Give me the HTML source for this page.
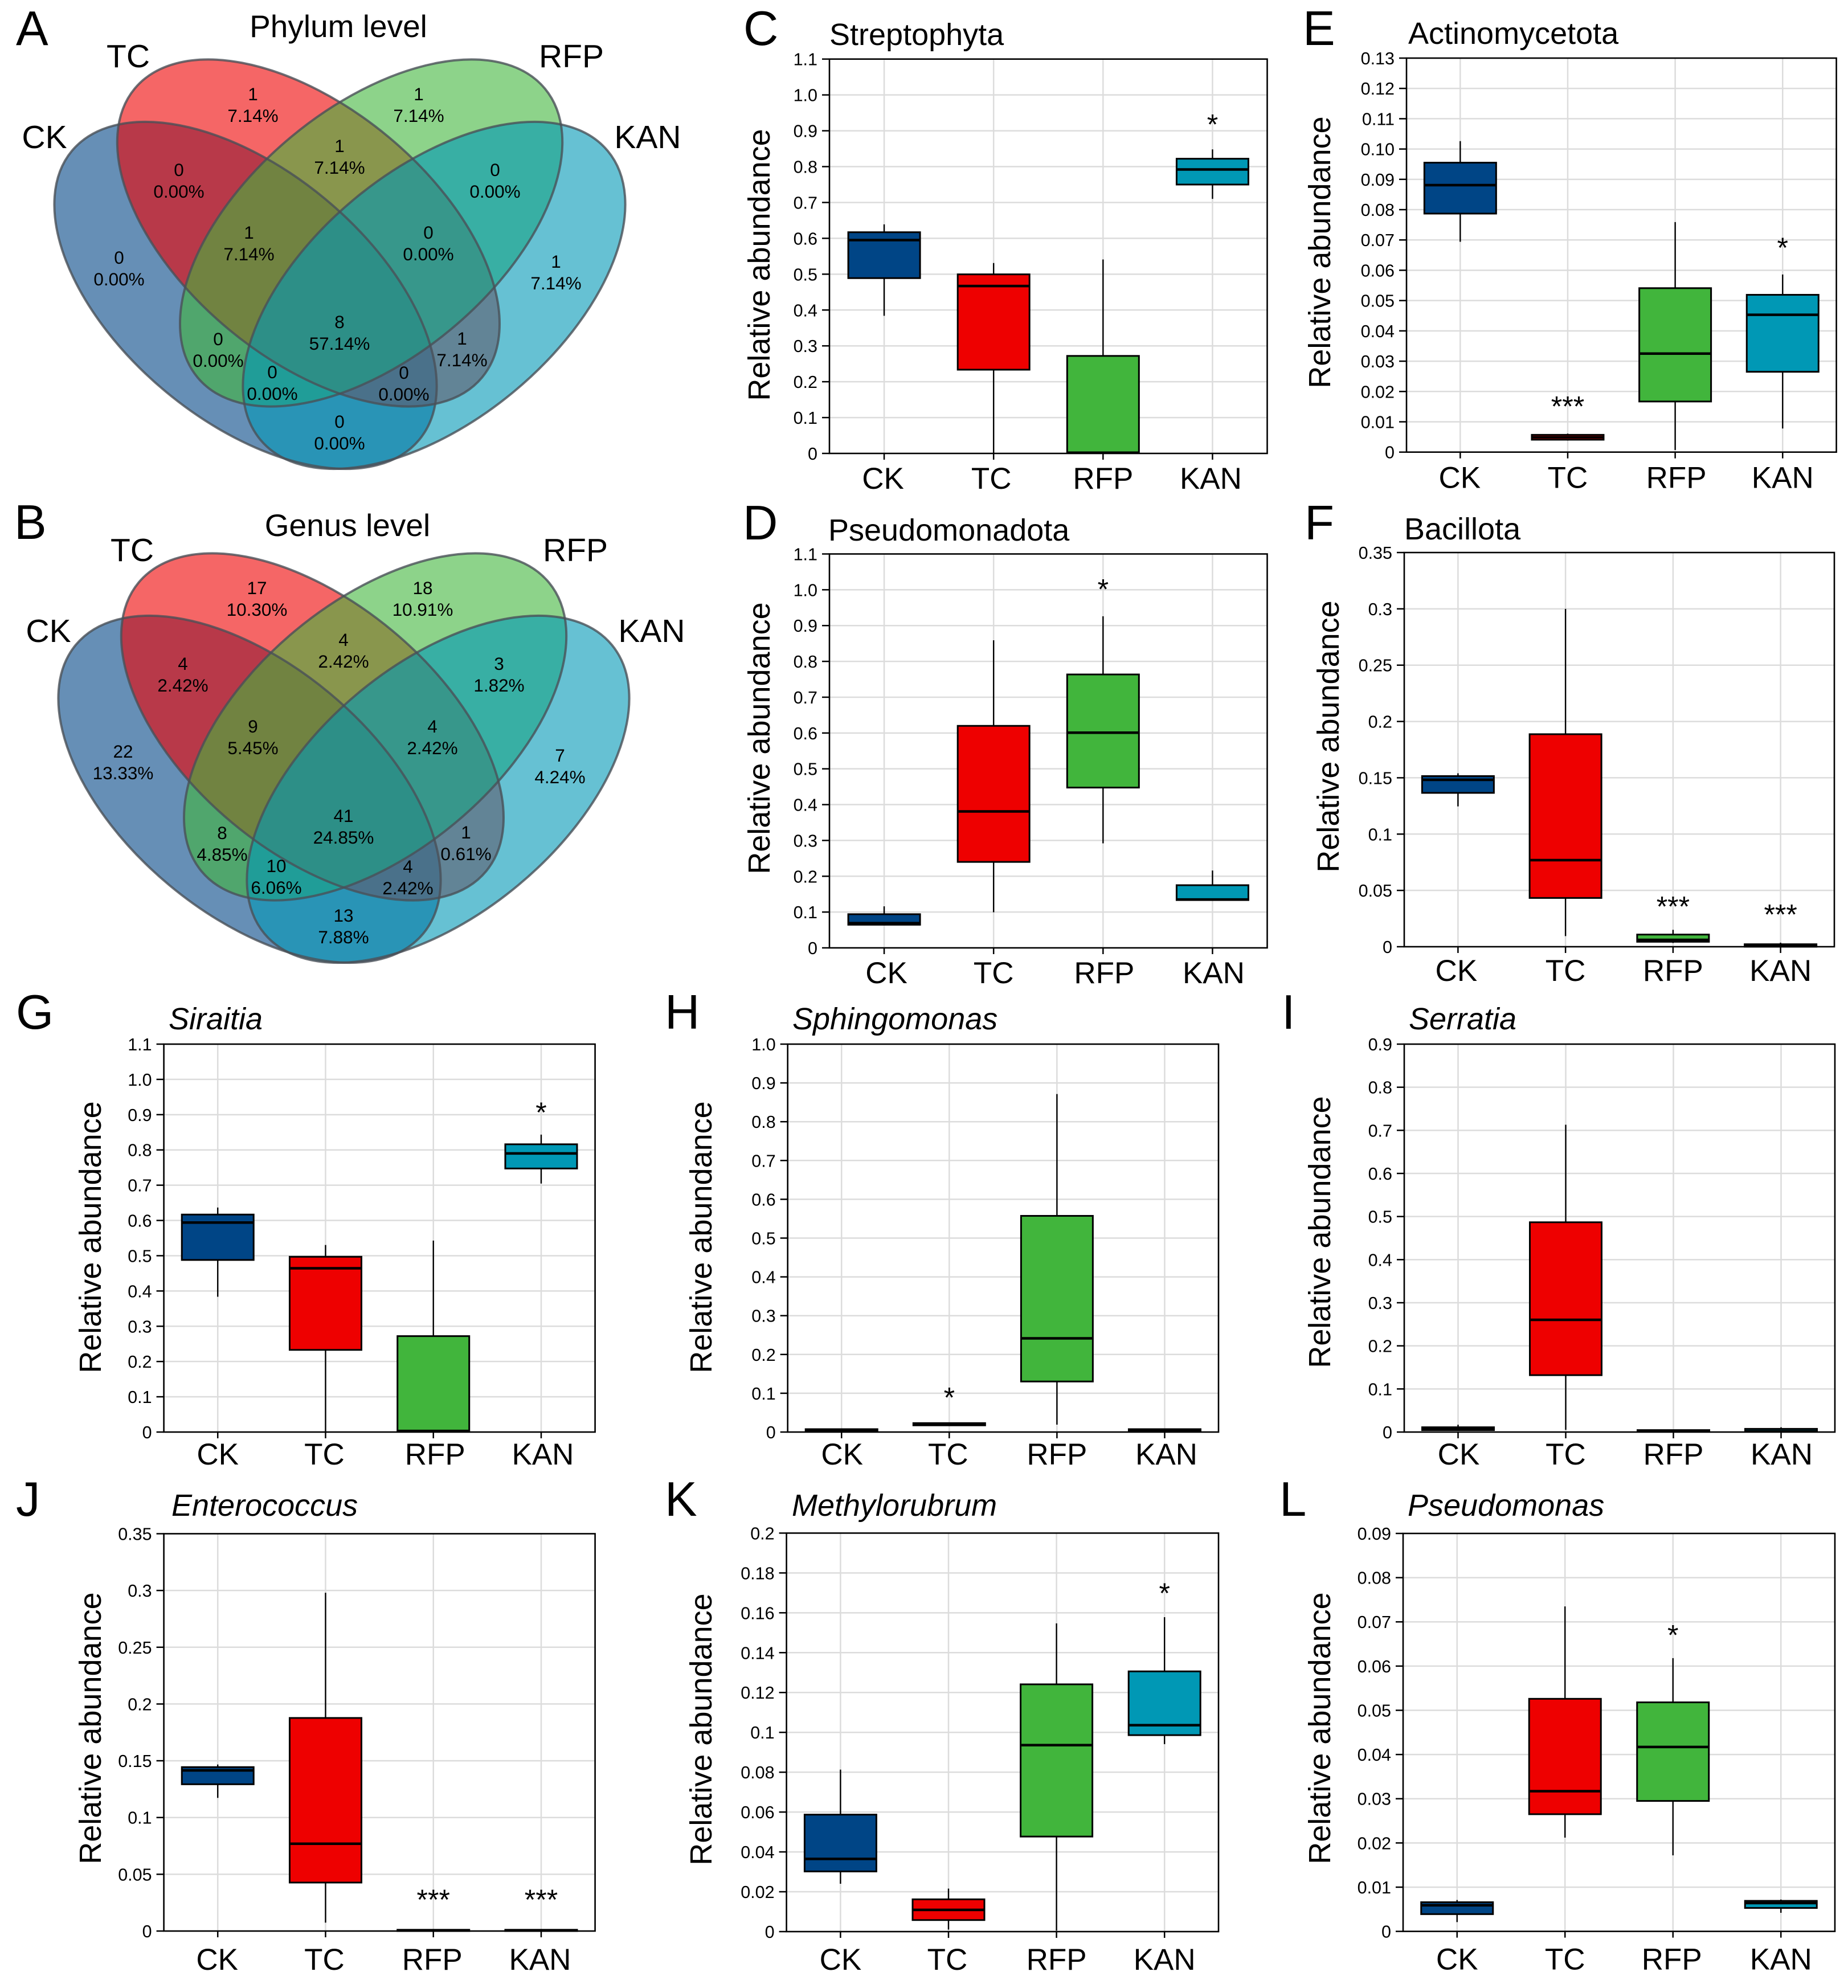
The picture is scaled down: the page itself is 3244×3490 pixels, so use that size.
<!DOCTYPE html>
<html lang="en">
<head>
<meta charset="utf-8">
<title>Venn diagrams and relative abundance box plots</title>
<style>
html,body{margin:0;padding:0;background:#fff;width:3244px;height:3490px;overflow:hidden}
svg{display:block;font-family:"Liberation Sans",Arial,sans-serif}
</style>
</head>
<body>
<svg id="fig" xmlns="http://www.w3.org/2000/svg" width="3244" height="3490" viewBox="0 0 3244 3490"></svg>
<script>
/* ---------- shared categories ---------- */
const categories = ['CK', 'TC', 'RFP', 'KAN'];

/* ---------- Venn data ---------- */
const vennRegionNames = ['tc-only','rfp-only','tc-rfp','ck-tc','rfp-kan','ck-tc-rfp','tc-rfp-kan','ck-only','kan-only','all-four','ck-rfp','tc-kan','ck-rfp-kan','ck-tc-kan','ck-kan'];
const phylumCounts = ['1','1','1','0','0','1','0','0','1','8','0','1','0','0','0'];
const phylumPercents = ['7.14%','7.14%','7.14%','0.00%','0.00%','7.14%','0.00%','0.00%','7.14%','57.14%','0.00%','7.14%','0.00%','0.00%','0.00%'];
const genusCounts = ['17','18','4','4','3','9','4','22','7','41','8','1','10','4','13'];
const genusPercents = ['10.30%','10.91%','2.42%','2.42%','1.82%','5.45%','2.42%','13.33%','4.24%','24.85%','4.85%','0.61%','6.06%','2.42%','7.88%'];

/* ---------- Box plot data: each row is [low, q1, median, q3, high] ---------- */
const panelCBoxes = [[0.384,0.489,0.595,0.617,0.639],[0,0.2336,0.467,0.4995,0.531],[0,0.002,0.002,0.272,0.541],[0.71,0.75,0.792,0.822,0.848]];
const panelCTicks = ['0','0.1','0.2','0.3','0.4','0.5','0.6','0.7','0.8','0.9','1.0','1.1'];
const panelCStarText = ['','','','*'];
const panelCStarLevel = [0,0,0,0.927];

const panelDBoxes = [[0.063,0.0646,0.069,0.094,0.116],[0.0995,0.24,0.381,0.62,0.859],[0.292,0.4476,0.601,0.7635,0.926],[0.133,0.1335,0.135,0.175,0.216]];
const panelDTicks = ['0','0.1','0.2','0.3','0.4','0.5','0.6','0.7','0.8','0.9','1.0','1.1'];
const panelDStarText = ['','','*',''];
const panelDStarLevel = [0,0,1.011,0];

const panelEBoxes = [[0.0694,0.0787,0.0881,0.0955,0.1026],[0.0038,0.0041,0.0049,0.0057,0.0061],[0.0007,0.0167,0.0325,0.0541,0.0759],[0.0078,0.0265,0.0453,0.0519,0.0586]];
const panelETicks = ['0','0.01','0.02','0.03','0.04','0.05','0.06','0.07','0.08','0.09','0.10','0.11','0.12','0.13'];
const panelEStarText = ['','***','','*'];
const panelEStarLevel = [0,0.0162,0,0.0685];

const panelFBoxes = [[0.1246,0.1366,0.1482,0.1515,0.154],[0.0094,0.0433,0.0769,0.1887,0.30],[0.0033,0.0044,0.0061,0.0108,0.015],[0,0,0.0011,0.0022,0.0036]];
const panelFTicks = ['0','0.05','0.1','0.15','0.2','0.25','0.3','0.35'];
const panelFStarText = ['','','***','***'];
const panelFStarLevel = [0,0,0.0386,0.0316];

const panelGBoxes = [[0.3836,0.488,0.594,0.6167,0.6366],[0,0.233,0.4643,0.497,0.5305],[0,0.002,0.003,0.272,0.543],[0.7046,0.7473,0.79,0.816,0.8434]];
const panelGTicks = ['0','0.1','0.2','0.3','0.4','0.5','0.6','0.7','0.8','0.9','1.0','1.1'];
const panelGStarText = ['','','','*'];
const panelGStarLevel = [0,0,0,0.916];

const panelHBoxes = [[0.0015,0.0016,0.005,0.0074,0.008],[0.0165,0.0173,0.0198,0.023,0.0247],[0.019,0.1303,0.2415,0.5573,0.8714],[0.003,0.0033,0.0058,0.0074,0.0078]];
const panelHTicks = ['0','0.1','0.2','0.3','0.4','0.5','0.6','0.7','0.8','0.9','1.0'];
const panelHStarText = ['','*','',''];
const panelHStarLevel = [0,0.098,0,0];

const panelIBoxes = [[0.003,0.0045,0.0074,0.0111,0.017],[0.005,0.132,0.2604,0.4867,0.713],[0.0005,0.0007,0.003,0.0045,0.005],[0.0005,0.0007,0.002,0.0074,0.0111]];
const panelITicks = ['0','0.1','0.2','0.3','0.4','0.5','0.6','0.7','0.8','0.9'];
const panelIStarText = ['','','',''];
const panelIStarLevel = [0,0,0,0];

const panelJBoxes = [[0.1173,0.1293,0.1415,0.1444,0.1467],[0.0074,0.0427,0.0769,0.1877,0.298],[0,0,0.0006,0.0011,0.0013],[0,0,0.0006,0.0011,0.0013]];
const panelJTicks = ['0','0.05','0.1','0.15','0.2','0.25','0.3','0.35'];
const panelJStarText = ['','','***','***'];
const panelJStarLevel = [0,0,0.0305,0.0305];

const panelKBoxes = [[0.024,0.0302,0.0365,0.0587,0.0813],[0.001,0.0058,0.0109,0.0162,0.0216],[0.0005,0.0477,0.0936,0.1241,0.1547],[0.0941,0.0986,0.1036,0.1306,0.1578]];
const panelKTicks = ['0','0.02','0.04','0.06','0.08','0.1','0.12','0.14','0.16','0.18','0.2'];
const panelKStarText = ['','','','*'];
const panelKStarLevel = [0,0,0,0.1715];

const panelLBoxes = [[0.0021,0.0039,0.0059,0.0066,0.0071],[0.0212,0.0265,0.0317,0.0526,0.0735],[0.0172,0.0295,0.0417,0.0518,0.0618],[0.0042,0.0053,0.0064,0.0069,0.0072]];
const panelLTicks = ['0','0.01','0.02','0.03','0.04','0.05','0.06','0.07','0.08','0.09'];
const panelLStarText = ['','','*',''];
const panelLStarLevel = [0,0,0.0678,0];

/* ---------- Colours ---------- */
const groupColors = ['#004586', '#EE0000', '#41B53C', '#0098B5'];

/* ---------- Helpers ---------- */
const fig = document.getElementById('fig');
const SVGNS = 'http://www.w3.org/2000/svg';
function make(parent, tag, attrs, text) {
  const node = document.createElementNS(SVGNS, tag);
  for (const k in attrs) node.setAttribute(k, attrs[k]);
  if (text !== undefined) node.textContent = text;
  parent.appendChild(node);
  return node;
}

/* ---------- Panel letters ---------- */
const letterLabels = ['A','B','C','D','E','F','G','H','I','J','K','L'];
const letterX = [28,25,1305,1304,2287,2290,28,1167,2250,28,1167,2246];
const letterY = [79,946,79,947,79,947,1806,1806,1806,2661,2661,2661];
letterLabels.forEach(function (t, i) {
  const el = make(fig, 'text', {x: letterX[i], y: letterY[i], 'font-size': 85, fill: '#000'}, t);
  
  
});

/* ---------- Venn diagrams ---------- */
const vennAxisA = 396.5, vennAxisB = 219.5, vennAngle = 39.75;
const vennCx = [431, 541.4, 651.6, 762];
const vennCy = [518.5, 409, 409, 518.5];
const vennTilt = [1, 1, -1, -1];
const vennLabelX = [78, 225, 1003, 1137];
const vennLabelY = [260, 118, 118, 260];
const vennRegionX = [444,735,596,314,869,437,752,209,976,596,383,811,478,709,596];
const vennRegionY = [165,165,256,298,298,408,408,452,459,565,595,594,653,654,740];

function drawVenn(id, title, titleX, titleY, dx, dy, counts, percents) {
  const g = make(fig, 'g', {});
  
  

  const t = make(g, 'text', {x: titleX, y: titleY, 'font-size': 55, 'text-anchor': 'middle'}, title);
  
  

  categories.forEach(function (c, i) {
    const cx = vennCx[i] + dx, cy = vennCy[i] + dy;
    const e = make(g, 'ellipse', {
      cx: cx, cy: cy, rx: vennAxisA, ry: vennAxisB,
      transform: 'rotate(' + (vennTilt[i] * vennAngle) + ' ' + cx + ' ' + cy + ')',
      fill: groupColors[i], 'fill-opacity': 0.6
    });
    
    
  });
  categories.forEach(function (c, i) {
    const cx = vennCx[i] + dx, cy = vennCy[i] + dy;
    const o = make(g, 'ellipse', {
      cx: cx, cy: cy, rx: vennAxisA, ry: vennAxisB,
      transform: 'rotate(' + (vennTilt[i] * vennAngle) + ' ' + cx + ' ' + cy + ')',
      fill: 'none', stroke: '#4a5058', 'stroke-opacity': 0.8, 'stroke-width': 4
    });
    
    
    const l = make(g, 'text', {x: vennLabelX[i] + dx, y: vennLabelY[i] + dy, 'font-size': 57, 'text-anchor': 'middle'}, c);
    
    
  });
  counts.forEach(function (c, i) {
    const a = make(g, 'text', {x: vennRegionX[i] + dx, y: vennRegionY[i] + dy + 11, 'font-size': 31.5, 'text-anchor': 'middle'}, c);
    
    
    const b = make(g, 'text', {x: vennRegionX[i] + dx, y: vennRegionY[i] + dy + 49, 'font-size': 31.5, 'text-anchor': 'middle'}, percents[i]);
    
    
  });
}
drawVenn('phylum', 'Phylum level', 594, 65, 0, 0, phylumCounts, phylumPercents);
drawVenn('genus', 'Genus level', 610, 941, 7, 867, genusCounts, genusPercents);

/* ---------- Box plots ---------- */
function drawBoxPlot(p) {
  const width = p.right - p.left;
  const maxValue = parseFloat(p.ticks[p.ticks.length - 1]);
  const xScale = function (i) { return p.left + (i + 0.5) * width / categories.length; };
  const yScale = function (v) { return p.bottom - (v / maxValue) * (p.bottom - p.top); };
  const boxWidth = 126;

  const g = make(fig, 'g', {});
  
  

  const title = make(g, 'text', {x: p.titleX, y: p.titleY, 'font-size': 54, 'font-style': p.italic ? 'italic' : 'normal'}, p.title);
  
  

  const yTitle = make(g, 'text', {
    transform: 'translate(' + p.yTitleX + ' ' + p.yTitleY + ') rotate(-90)',
    'font-size': 54, 'text-anchor': 'middle'
  }, 'Relative abundance');
  
  

  p.ticks.forEach(function (label) {
    const v = parseFloat(label);
    const py = yScale(v);
    if (v > 0 && v < maxValue) {
      const gl = make(g, 'line', {x1: p.left, x2: p.right, y1: py, y2: py, stroke: '#dcdcdc', 'stroke-width': 2.5});
      
      
    }
    const tk = make(g, 'line', {x1: p.left - 13, x2: p.left, y1: py, y2: py, stroke: '#000', 'stroke-width': 2.5});
    
    
    const tl = make(g, 'text', {x: p.left - 21, y: py + 11, 'font-size': 30.5, 'text-anchor': 'end'}, label);
    
    
  });

  categories.forEach(function (c, i) {
    const px = xScale(i);
    const gl = make(g, 'line', {x1: px, x2: px, y1: p.top, y2: p.bottom, stroke: '#dcdcdc', 'stroke-width': 2.5});
    
    
    const tk = make(g, 'line', {x1: px, x2: px, y1: p.bottom, y2: p.bottom + 11, stroke: '#000', 'stroke-width': 2.5});
    
    
    const tl = make(g, 'text', {x: px + p.labelDx[i], y: p.bottom + p.labelGap, 'font-size': 53, 'text-anchor': 'middle'}, c);
    
    
  });

  const frame = make(g, 'rect', {x: p.left, y: p.top, width: width, height: p.bottom - p.top, fill: 'none', stroke: '#000', 'stroke-width': 2.6});
  
  

  p.boxes.forEach(function (row, i) {
    const low = row[0], q1 = row[1], med = row[2], q3 = row[3], high = row[4];
    const px = xScale(i), c = categories[i].toLowerCase();
    const w = make(g, 'line', {x1: px, x2: px, y1: yScale(low), y2: yScale(high), stroke: '#000', 'stroke-width': 2.4});
    
    
    const b = make(g, 'rect', {x: px - boxWidth / 2, y: yScale(q3), width: boxWidth, height: yScale(q1) - yScale(q3), fill: groupColors[i], stroke: '#000', 'stroke-width': 3});
    
    
    const m = make(g, 'line', {x1: px - boxWidth / 2, x2: px + boxWidth / 2, y1: yScale(med), y2: yScale(med), stroke: '#000', 'stroke-width': 4.5});
    
    
    if (p.starText[i]) {
      const s = make(g, 'text', {x: px, y: yScale(p.starLevel[i]) + 23, 'font-size': 50, 'text-anchor': 'middle'}, p.starText[i]);
      
      
    }
  });
}

drawBoxPlot({title:'Streptophyta', italic:false, titleX:1456, titleY:79, left:1456, right:2224.5, top:103.7, bottom:796, yTitleX:1351, yTitleY:465, labelGap:62, labelDx:[-2,-4,0,-3], ticks:panelCTicks, boxes:panelCBoxes, starText:panelCStarText, starLevel:panelCStarLevel});
drawBoxPlot({title:'Pseudomonadota', italic:false, titleX:1454, titleY:949, left:1456, right:2224.5, top:972.5, bottom:1664, yTitleX:1351, yTitleY:1296, labelGap:62, labelDx:[4,0,2,2], ticks:panelDTicks, boxes:panelDBoxes, starText:panelDStarText, starLevel:panelDStarLevel});
drawBoxPlot({title:'Actinomycetota', italic:false, titleX:2472, titleY:77, left:2469, right:3223.6, top:102, bottom:793.7, yTitleX:2335, yTitleY:443, labelGap:63, labelDx:[-1,0,2,0], ticks:panelETicks, boxes:panelEBoxes, starText:panelEStarText, starLevel:panelEStarLevel});
drawBoxPlot({title:'Bacillota', italic:false, titleX:2465, titleY:947, left:2465, right:3220, top:970, bottom:1662, yTitleX:2350, yTitleY:1293, labelGap:60, labelDx:[-3,0,0,0], ticks:panelFTicks, boxes:panelFBoxes, starText:panelFStarText, starLevel:panelFStarLevel});
drawBoxPlot({title:'Siraitia', italic:true, titleX:296, titleY:1807, left:287.6, right:1044.6, top:1833, bottom:2514, yTitleX:177, yTitleY:2172, labelGap:57, labelDx:[0,-2,3,3], ticks:panelGTicks, boxes:panelGBoxes, starText:panelGStarText, starLevel:panelGStarLevel});
drawBoxPlot({title:'Sphingomonas', italic:true, titleX:1391, titleY:1807, left:1382.7, right:2139, top:1833, bottom:2514, yTitleX:1249, yTitleY:2172, labelGap:57, labelDx:[1,-2,0,3], ticks:panelHTicks, boxes:panelHBoxes, starText:panelHStarText, starLevel:panelHStarLevel});
drawBoxPlot({title:'Serratia', italic:true, titleX:2473, titleY:1807, left:2465, right:3221, top:1833, bottom:2514, yTitleX:2335, yTitleY:2163, labelGap:57, labelDx:[1,0,0,1], ticks:panelITicks, boxes:panelIBoxes, starText:panelIStarText, starLevel:panelIStarLevel});
drawBoxPlot({title:'Enterococcus', italic:true, titleX:301, titleY:2661, left:287.6, right:1044.6, top:2692.5, bottom:3390, yTitleX:177, yTitleY:3034, labelGap:68, labelDx:[-1,-2,-2,-2], ticks:panelJTicks, boxes:panelJBoxes, starText:panelJStarText, starLevel:panelJStarLevel});
drawBoxPlot({title:'Methylorubrum', italic:true, titleX:1390, titleY:2661, left:1380.6, right:2139, top:2691.4, bottom:3391, yTitleX:1249, yTitleY:3036, labelGap:67, labelDx:[0,-2,0,0], ticks:panelKTicks, boxes:panelKBoxes, starText:panelKStarText, starLevel:panelKStarLevel});
drawBoxPlot({title:'Pseudomonas', italic:true, titleX:2471, titleY:2661, left:2463, right:3221, top:2692, bottom:3390.6, yTitleX:2335, yTitleY:3034, labelGap:67, labelDx:[0,0,-2,0], ticks:panelLTicks, boxes:panelLBoxes, starText:panelLStarText, starLevel:panelLStarLevel});
</script>
</body>
</html>
